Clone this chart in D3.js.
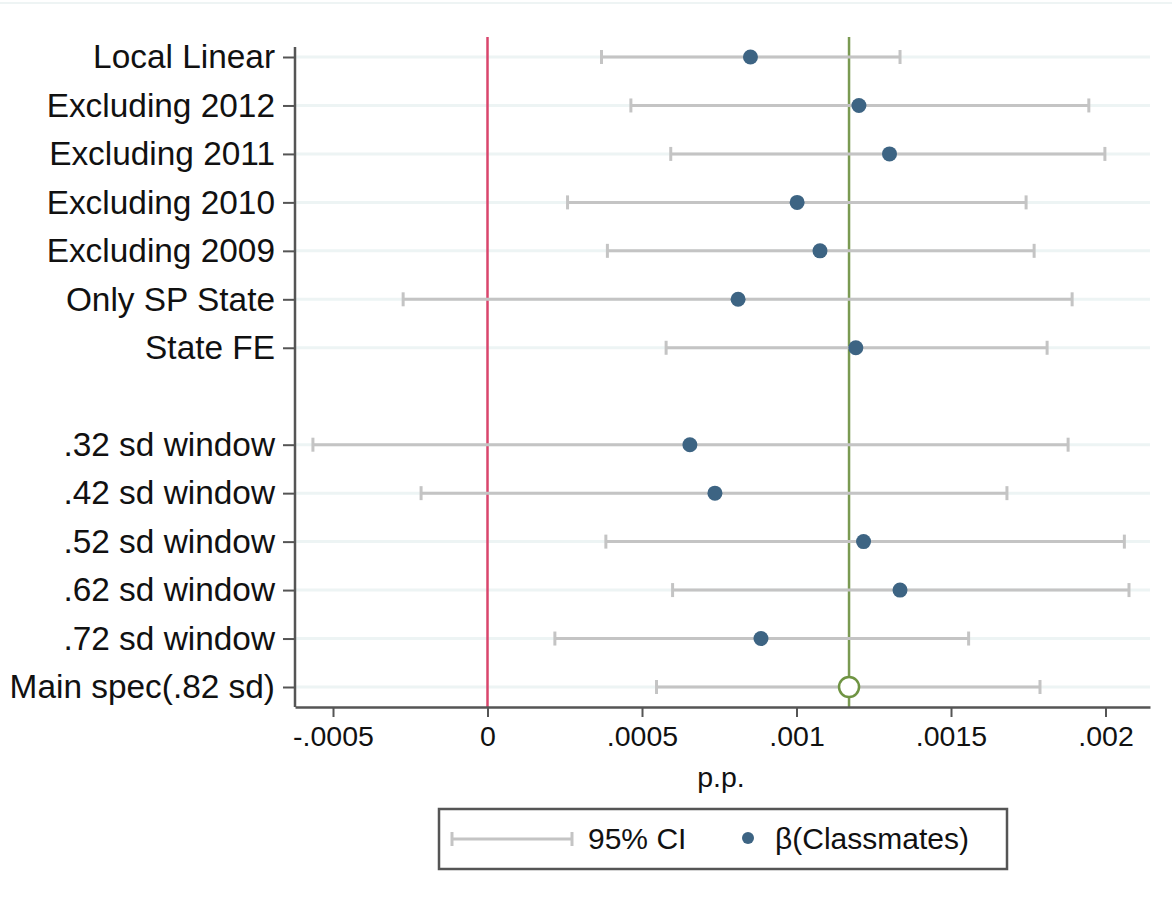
<!DOCTYPE html>
<html>
<head>
<meta charset="utf-8">
<script src="https://cdn.jsdelivr.net/npm/d3@7"></script>
<style>
  body { margin: 0; background: #fff; }
  svg { display: block; font-family: "Liberation Sans", Arial, Helvetica, sans-serif; }
</style>
</head>
<body>
<svg id="chart" width="1172" height="907"></svg>
<script>
// rows top to bottom, "" is the empty spacer row
const labels = ["Local Linear", "Excluding 2012", "Excluding 2011", "Excluding 2010",
  "Excluding 2009", "Only SP State", "State FE", "",
  ".32 sd window", ".42 sd window", ".52 sd window", ".62 sd window",
  ".72 sd window", "Main spec(.82 sd)"];
const beta = [0.000851, 0.001202, 0.001301, 0.001002, 0.001076, 0.000811, 0.001192, null,
  0.000655, 0.000736, 0.001217, 0.001335, 0.000885, 0.00117];
const ciLow = [0.000369, 0.000464, 0.000593, 0.000259, 0.000388, -0.000273, 0.000578, null,
  -0.000565, -0.000215, 0.000383, 0.000599, 0.000218, 0.000547];
const ciHigh = [0.001335, 0.001946, 0.001998, 0.001743, 0.001769, 0.001892, 0.001811, null,
  0.001879, 0.001681, 0.002061, 0.002076, 0.001557, 0.001788];
const xTicks = [-0.0005, 0, 0.0005, 0.001, 0.0015, 0.002];
const xTickLabels = ["-.0005", "0", ".0005", ".001", ".0015", ".002"];
const mainIdx = 13;

const svg = d3.select("#chart");
const plotLeft = 295, plotRight = 1150, plotTop = 37, plotBottom = 707;

const x = d3.scaleLinear().domain([-0.000623, 0.002144]).range([plotLeft, plotRight]);
const y = d3.scalePoint().domain(d3.range(labels.length)).range([57, 687]);

// faint line at the very top of the picture
svg.append("line").attr("x1", 0).attr("x2", 1172).attr("y1", 3).attr("y2", 3)
  .attr("stroke", "#eef4f4").attr("stroke-width", 2);

const rows = d3.range(labels.length);

// light horizontal grid lines on every labelled row
svg.append("g").selectAll("line").data(rows.filter(i => labels[i] !== "")).join("line")
  .attr("x1", plotLeft).attr("x2", plotRight)
  .attr("y1", i => y(i)).attr("y2", i => y(i))
  .attr("stroke", "#edf4f4").attr("stroke-width", 3);

// reference lines: zero and main spec estimate
svg.append("line").attr("x1", x(0)).attr("x2", x(0)).attr("y1", plotTop).attr("y2", plotBottom)
  .attr("stroke", "#d9456c").attr("stroke-width", 2.5);
svg.append("line").attr("x1", x(beta[mainIdx])).attr("x2", x(beta[mainIdx]))
  .attr("y1", plotTop).attr("y2", plotBottom)
  .attr("stroke", "#7a9a52").attr("stroke-width", 2.5);

// confidence intervals
const data = rows.filter(i => beta[i] !== null);
const ci = svg.append("g").attr("stroke", "#c4c4c4").attr("stroke-width", 3);
ci.selectAll("line.bar").data(data).join("line").attr("class", "bar")
  .attr("x1", i => x(ciLow[i])).attr("x2", i => x(ciHigh[i]))
  .attr("y1", i => y(i)).attr("y2", i => y(i));
ci.selectAll("line.capl").data(data).join("line").attr("class", "capl")
  .attr("x1", i => x(ciLow[i])).attr("x2", i => x(ciLow[i]))
  .attr("y1", i => y(i) - 7).attr("y2", i => y(i) + 7);
ci.selectAll("line.caph").data(data).join("line").attr("class", "caph")
  .attr("x1", i => x(ciHigh[i])).attr("x2", i => x(ciHigh[i]))
  .attr("y1", i => y(i) - 7).attr("y2", i => y(i) + 7);

// point estimates
svg.append("g").selectAll("circle").data(data.filter(i => i !== mainIdx)).join("circle")
  .attr("cx", i => x(beta[i])).attr("cy", i => y(i)).attr("r", 7.5)
  .attr("fill", "#3d6483");
svg.append("circle").attr("cx", x(beta[mainIdx])).attr("cy", y(mainIdx)).attr("r", 10)
  .attr("fill", "#fff").attr("stroke", "#6f9443").attr("stroke-width", 2.5);

// axes
const xAxis = svg.append("g").attr("transform", `translate(0,${plotBottom})`)
  .call(d3.axisBottom(x).tickValues(xTicks).tickFormat((d, i) => xTickLabels[i])
    .tickSize(10).tickPadding(9).tickSizeOuter(0));
xAxis.select(".domain").attr("stroke", "#555").attr("stroke-width", 2.5);
xAxis.selectAll(".tick line").attr("stroke", "#555").attr("stroke-width", 2);
xAxis.selectAll("text").attr("font-size", 28.5).attr("fill", "#111")
  .attr("font-family", "Liberation Sans, Arial, sans-serif");

const yAxis = svg.append("g").attr("transform", `translate(${plotLeft},0)`)
  .call(d3.axisLeft(y).tickValues(rows.filter(i => labels[i] !== ""))
    .tickFormat(i => labels[i]).tickSize(12).tickPadding(8).tickSizeOuter(0));
yAxis.select(".domain").attr("d", `M0,${plotTop + 10}V${plotBottom}`)
  .attr("stroke", "#555").attr("stroke-width", 2.5);
yAxis.selectAll(".tick line").attr("stroke", "#555").attr("stroke-width", 2);
yAxis.selectAll("text").attr("font-size", 33.4).attr("fill", "#111")
  .attr("font-family", "Liberation Sans, Arial, sans-serif");

// x axis title
svg.append("text").attr("x", 721).attr("y", 787).attr("text-anchor", "middle")
  .attr("font-size", 28.5).attr("fill", "#111").text("p.p.");

// legend
const lg = svg.append("g");
lg.append("rect").attr("x", 439).attr("y", 809).attr("width", 568).attr("height", 60)
  .attr("fill", "#fff").attr("stroke", "#555").attr("stroke-width", 2.5);
lg.append("line").attr("x1", 452).attr("x2", 572).attr("y1", 839).attr("y2", 839)
  .attr("stroke", "#c4c4c4").attr("stroke-width", 3);
[452, 572].forEach(cx => lg.append("line").attr("x1", cx).attr("x2", cx)
  .attr("y1", 832).attr("y2", 846).attr("stroke", "#c4c4c4").attr("stroke-width", 3));
lg.append("text").attr("x", 588).attr("y", 849).attr("font-size", 30).attr("fill", "#111")
  .text("95% CI");
lg.append("circle").attr("cx", 748).attr("cy", 838).attr("r", 6).attr("fill", "#3d6483");
lg.append("text").attr("x", 775).attr("y", 849).attr("font-size", 30).attr("fill", "#111")
  .text("β(Classmates)");
</script>
</body>
</html>
